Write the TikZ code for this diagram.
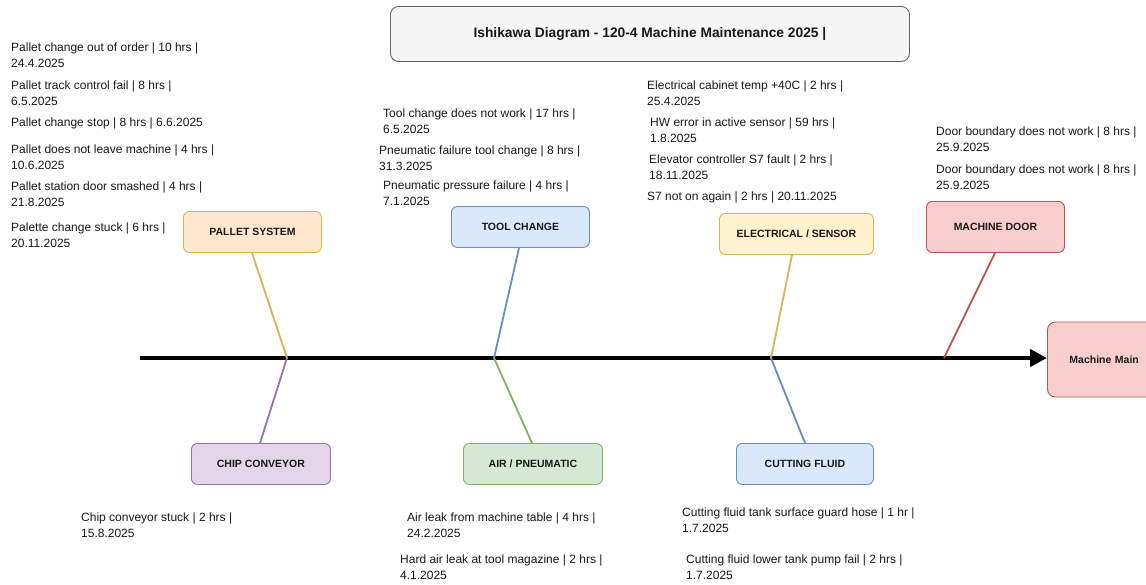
\documentclass[tikz,border=0pt]{standalone}
\usepackage{fontspec}
\setmainfont{Liberation Sans}
\usetikzlibrary{arrows.meta}
\definecolor{ttlfill}{HTML}{F5F5F5}
\definecolor{ttldraw}{HTML}{666666}
\definecolor{orfill}{HTML}{FFE6CC}
\definecolor{yedraw}{HTML}{D6B656}
\definecolor{yefill}{HTML}{FFF2CC}
\definecolor{blfill}{HTML}{DAE8FC}
\definecolor{bldraw}{HTML}{6C8EBF}
\definecolor{rdfill}{HTML}{F8CECC}
\definecolor{rddraw}{HTML}{B85450}
\definecolor{pufill}{HTML}{E1D5E7}
\definecolor{pudraw}{HTML}{9673A6}
\definecolor{grfill}{HTML}{D5E8D4}
\definecolor{grdraw}{HTML}{82B366}
\tikzset{
  catbox/.style={draw, line width=0.9pt, rounded corners=6pt, anchor=north west,
    font=\fontsize{10.5}{12}\selectfont\bfseries, text=black!90, inner sep=0pt},
  cause/.style={anchor=north west, inner sep=0pt, align=left,
    font=\fontsize{12}{16}\selectfont, text=black!90},
  bone/.style={line width=1.8pt},
}
\begin{document}
\begin{tikzpicture}[x=1pt,y=-1pt]
\useasboundingbox (0,0) rectangle (1146,584);
\clip (0,0) rectangle (1146,584);
\fill[white] (0,0) rectangle (1146,584);

% title
\node[draw=ttldraw, fill=ttlfill, line width=0.9pt, rounded corners=8pt, anchor=north west,
  minimum width=519pt, minimum height=55pt, inner sep=0pt,
  font=\fontsize{13.8}{15}\selectfont\bfseries, text=black!90] (title) at (390,6)
  {Ishikawa Diagram - 120-4 Machine Maintenance 2025 |};

% head
\node[draw=rddraw, fill=rdfill, line width=0.9pt, rounded corners=8pt, anchor=west,
  minimum height=75pt, inner xsep=22pt, inner ysep=0pt, text width=128pt, align=left,
  font=\fontsize{10.5}{12}\selectfont\bfseries, text=black!90] (head) at (1047,359.5) {Machine Main};

% spine
\coordinate (tail) at (140,358);
\coordinate (jA) at (287,358);
\coordinate (jB) at (494,358);
\coordinate (jC) at (771,358);
\coordinate (jD) at (944,358);
\draw[line width=4pt, -{Triangle[length=17pt,width=17pt]}] (tail) -- (head.west |- tail);

% category boxes
\node[catbox, fill=orfill, draw=yedraw, minimum width=138pt, minimum height=41pt] (pallet) at (183,211) {PALLET SYSTEM};
\node[catbox, fill=blfill, draw=bldraw, minimum width=138pt, minimum height=41pt] (tool) at (451,206) {TOOL CHANGE};
\node[catbox, fill=yefill, draw=yedraw, minimum width=154pt, minimum height=41pt] (elec) at (719,213) {ELECTRICAL / SENSOR};
\node[catbox, fill=rdfill, draw=rddraw, minimum width=138pt, minimum height=51pt] (door) at (926,201) {MACHINE DOOR};
\node[catbox, fill=pufill, draw=pudraw, minimum width=139pt, minimum height=41pt] (chip) at (191,443) {CHIP CONVEYOR};
\node[catbox, fill=grfill, draw=grdraw, minimum width=139pt, minimum height=41pt] (air) at (463,443) {AIR / PNEUMATIC};
\node[catbox, fill=blfill, draw=bldraw, minimum width=137pt, minimum height=41pt] (cut) at (736,443) {CUTTING FLUID};

% bones
\draw[bone, yedraw] (pallet.south -| 252,0) -- (jA);
\draw[bone, bldraw] (tool.south -| 519,0) -- (jB);
\draw[bone, yedraw] (elec.south -| 792,0) -- (jC);
\draw[bone, rddraw] (door.south -| 995,0) -- (jD);
\draw[bone, pudraw] (jA) -- (chip.north -| 260,0);
\draw[bone, grdraw] (jB) -- (air.north -| 532,0);
\draw[bone, bldraw] (jC) -- (cut.north -| 805,0);

% causes: pallet
\node[cause] (p1) at (11,40.1) {\strut Pallet change out of order | 10 hrs |\\24.4.2025};
\node[cause] (p2) at (11,78.1) {\strut Pallet track control fail | 8 hrs |\\6.5.2025};
\node[cause] (p3) at (11,115.1) {\strut Pallet change stop | 8 hrs | 6.6.2025};
\node[cause] (p4) at (11,142.1) {\strut Pallet does not leave machine | 4 hrs |\\10.6.2025};
\node[cause] (p5) at (11,179.1) {\strut Pallet station door smashed | 4 hrs |\\21.8.2025};
\node[cause] (p6) at (11,220.1) {\strut Palette change stuck | 6 hrs |\\20.11.2025};

% causes: tool change
\node[cause] (t1) at (383,106.1) {\strut Tool change does not work | 17 hrs |\\6.5.2025};
\node[cause] (t2) at (379,143.1) {\strut Pneumatic failure tool change | 8 hrs |\\31.3.2025};
\node[cause] (t3) at (383,178.1) {\strut Pneumatic pressure failure | 4 hrs |\\7.1.2025};

% causes: electrical
\node[cause] (e1) at (647,78.1) {\strut Electrical cabinet temp +40C | 2 hrs |\\25.4.2025};
\node[cause] (e2) at (650,115.1) {\strut HW error in active sensor | 59 hrs |\\1.8.2025};
\node[cause] (e3) at (649,152.1) {\strut Elevator controller S7 fault | 2 hrs |\\18.11.2025};
\node[cause] (e4) at (647,189.1) {\strut S7 not on again | 2 hrs | 20.11.2025};

% causes: door
\node[cause] (d1) at (936,124.1) {\strut Door boundary does not work | 8 hrs |\\25.9.2025};
\node[cause] (d2) at (936,162.1) {\strut Door boundary does not work | 8 hrs |\\25.9.2025};

% causes: chip
\node[cause] (c1) at (81,510.1) {\strut Chip conveyor stuck | 2 hrs |\\15.8.2025};

% causes: air
\node[cause] (a1) at (407,510.1) {\strut Air leak from machine table | 4 hrs |\\24.2.2025};
\node[cause] (a2) at (400,552.1) {\strut Hard air leak at tool magazine | 2 hrs |\\4.1.2025};

% causes: cutting fluid
\node[cause] (f1) at (682,505.1) {\strut Cutting fluid tank surface guard hose | 1 hr |\\1.7.2025};
\node[cause] (f2) at (686,552.1) {\strut Cutting fluid lower tank pump fail | 2 hrs |\\1.7.2025};
\end{tikzpicture}
\end{document}
